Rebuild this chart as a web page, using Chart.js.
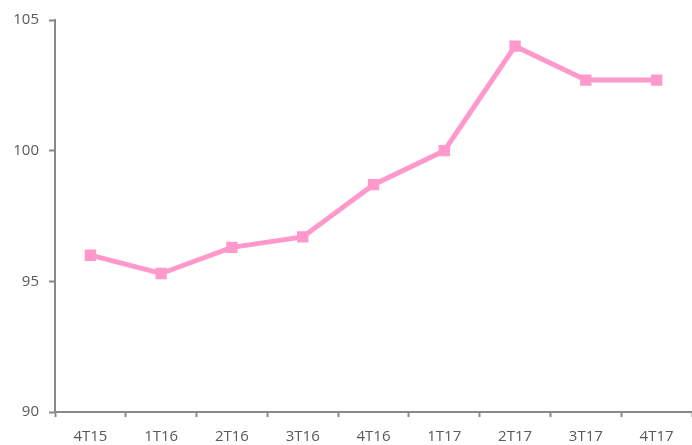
<!DOCTYPE html>
<html>
<head>
<meta charset="utf-8">
<script src="https://cdn.jsdelivr.net/npm/chart.js@4"></script>
<style>
  html, body { margin: 0; padding: 0; background: #fff; }
  #wrap { width: 692px; height: 445px; }
</style>
</head>
<body>
<div id="wrap"><canvas id="grafico"></canvas></div>
<script>
// dados
const trimestres = ['4T15', '1T16', '2T16', '3T16', '4T16', '1T17', '2T17', '3T17', '4T17'];
const valores = [96.0, 95.3, 96.3, 96.7, 98.7, 100.0, 104.0, 102.7, 102.7];
const ticksY = [90, 95, 100, 105];

const corLinha = '#FF99CC';
const corEixo = '#888888';
const corTexto = '#595959';

Chart.defaults.font.family = "'Open Sans', 'Liberation Sans', sans-serif";
Chart.defaults.font.size = 15;
Chart.defaults.color = corTexto;

const grafico = new Chart(document.getElementById('grafico'), {
    type: 'line',
    data: {
        labels: trimestres,
        datasets: [{
            data: valores,
            borderColor: corLinha,
            backgroundColor: corLinha,
            borderWidth: 5,
            pointStyle: 'rect',
            pointRadius: 4.5,
            pointHoverRadius: 4.5,
            tension: 0
        }]
    },
    options: {
        responsive: true,
        maintainAspectRatio: false,
        animation: false,
        layout: { autoPadding: false, padding: { top: 20, right: -2, left: 0, bottom: 0 } },
        plugins: {
            legend: { display: false },
            tooltip: { enabled: false }
        },
        scales: {
            x: {
                offset: true,
                grid: {
                    offset: true,
                    drawOnChartArea: false,
                    drawTicks: true,
                    tickLength: 5,
                    tickWidth: 2,
                    color: corEixo
                },
                border: { color: corEixo, width: 2 },
                ticks: { padding: 11, maxRotation: 0 },
                afterFit: (escala) => {
                    escala.height = 33;
                    escala.paddingLeft = 0;
                    escala.paddingRight = 0;
                }
            },
            y: {
                min: 90,
                max: 105,
                afterBuildTicks: (escala) => {
                    escala.ticks = ticksY.map(v => ({ value: v }));
                },
                grid: {
                    drawOnChartArea: false,
                    drawTicks: true,
                    tickLength: 6,
                    tickWidth: 2,
                    color: corEixo
                },
                border: { color: corEixo, width: 2 },
                ticks: { padding: 10 },
                afterFit: (escala) => {
                    escala.width = 55;
                    escala.paddingTop = 0;
                    escala.paddingBottom = 0;
                }
            }
        }
    }
});
</script>
</body>
</html>
